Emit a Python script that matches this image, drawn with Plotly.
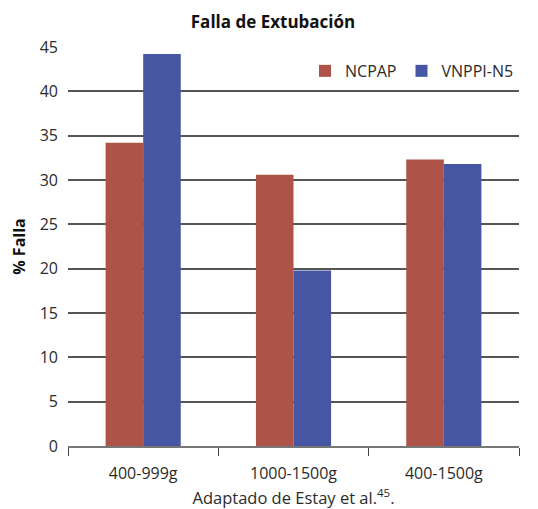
import plotly.graph_objects as go

categories = ["400-999g", "1000-1500g", "400-1500g"]
ncpap = [34.2, 30.6, 32.3]
vnppi = [44.2, 19.8, 31.8]
series_names = ["NCPAP", "VNPPI-N5"]
y_ticks = [0, 5, 10, 15, 20, 25, 30, 35, 40, 45]

FONT = "Open Sans"
W, H = 530, 501  # page body has an 8px margin

fig = go.Figure()
fig.add_trace(go.Bar(x=categories, y=ncpap, name=series_names[0], marker_color="#AD5347", marker_line_width=0))
fig.add_trace(go.Bar(x=categories, y=vnppi, name=series_names[1], marker_color="#4756A3", marker_line_width=0))

fig.update_layout(
    width=W, height=H,
    margin=dict(l=60, r=19, t=39, b=63, autoexpand=False),
    paper_bgcolor="white", plot_bgcolor="white",
    barmode="group", bargap=0.5, bargroupgap=0,
    font=dict(family=FONT, color="#2b2b2b", size=16),
    title=dict(text="<b>Falla de Extubación</b>", x=0.5, xanchor="center", y=1 - 14/H, yanchor="middle",
               font=dict(family=FONT, size=17, color="#111")),
    legend=dict(orientation="h", x=1.0, xanchor="right", y=0.94, yanchor="middle",
                font=dict(family=FONT, size=16, color="#2b2b2b"), bgcolor="rgba(0,0,0,0)",
                itemwidth=30, traceorder="normal"),
    showlegend=True,
)
fig.update_yaxes(range=[0, 45], tickvals=y_ticks, showgrid=True, gridcolor="#555555", gridwidth=1.6,
                 zeroline=False, showline=False, ticks="", ticklabelstandoff=9,
                 tickfont=dict(family=FONT, size=16, color="#2b2b2b"),
                 title=dict(text="<b>% Falla</b>", font=dict(family=FONT, size=16, color="#111"), standoff=10))
fig.update_xaxes(showline=True, linecolor="#777777", linewidth=2, ticks="outside", tickson="boundaries",
                 ticklen=8, tickcolor="#444", tickwidth=1.2, showgrid=False, ticklabelstandoff=12,
                 tickfont=dict(family=FONT, size=16, color="#2b2b2b"),
                 title=dict(text="Adaptado de Estay et al.<sup>45</sup>.", font=dict(family=FONT, size=16.5, color="#2b2b2b"), standoff=13))

fig.write_html("out.html")
